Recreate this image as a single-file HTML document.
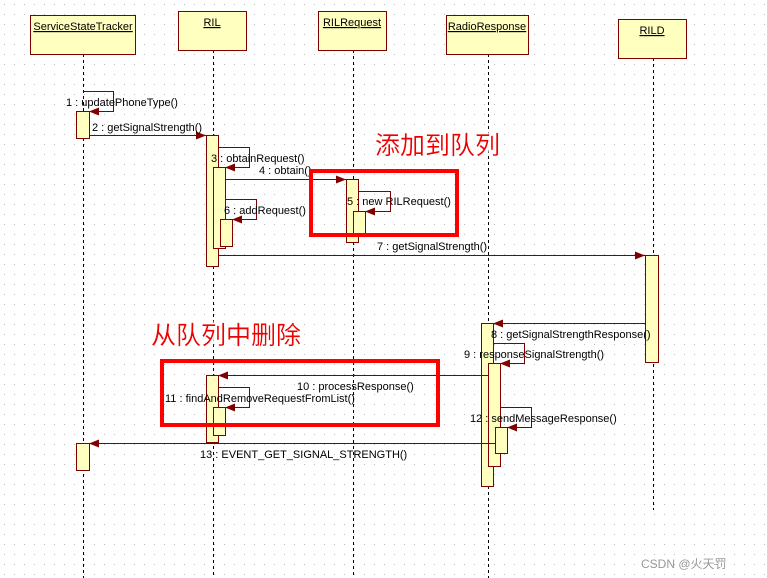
<!DOCTYPE html>
<html><head><meta charset="utf-8"><style>
html,body{margin:0;padding:0;background:#fff;}
svg{display:block;}
text{font-family:"Liberation Sans","Noto Sans CJK SC",sans-serif;font-size:11px;fill:#000;}
.cn{font-family:"Noto Sans CJK SC","WenQuanYi Zen Hei",sans-serif;font-size:25px;fill:#e00;stroke:#fff;stroke-width:0;}
</style></head><body>
<svg width="767" height="578" viewBox="0 0 767 578" xmlns="http://www.w3.org/2000/svg">
<defs>
<pattern id="dots" width="10" height="10" patternUnits="userSpaceOnUse"><rect x="4" y="4" width="1" height="1" fill="#bbb"/></pattern>
<marker id="ah" markerWidth="10" markerHeight="8" refX="10" refY="4" orient="auto" markerUnits="userSpaceOnUse"><path d="M0,0 L10,4 L0,8 z" fill="#800000"/></marker>
<filter id="glow"><feMorphology operator="dilate" radius="2" in="SourceAlpha" result="d"/><feGaussianBlur in="d" stdDeviation="1.5" result="b"/><feFlood flood-color="#fff"/><feComposite in2="b" operator="in"/><feMerge><feMergeNode/><feMergeNode in="SourceGraphic"/></feMerge></filter>
</defs>
<rect width="767" height="578" fill="url(#dots)"/>
<g stroke="#000" stroke-dasharray="3,3" stroke-width="1">
<line x1="83.5" y1="54" x2="83.5" y2="578"/>
<line x1="213.5" y1="50" x2="213.5" y2="578"/>
<line x1="353.5" y1="50" x2="353.5" y2="578"/>
<line x1="488.5" y1="54" x2="488.5" y2="578"/>
<line x1="653.5" y1="58" x2="653.5" y2="510"/>
</g>
<g fill="#ffffc0" stroke="#800000" stroke-width="1">
<rect x="30.5" y="15.5" width="105" height="39"/>
<rect x="178.5" y="11.5" width="68" height="39"/>
<rect x="318.5" y="11.5" width="68" height="39"/>
<rect x="446.5" y="15.5" width="82" height="39"/>
<rect x="618.5" y="19.5" width="68" height="39"/>
</g>
<g style="text-decoration:underline">
<text x="83" y="30" text-anchor="middle" text-decoration="underline">ServiceStateTracker</text>
<text x="212" y="26" text-anchor="middle" text-decoration="underline">RIL</text>
<text x="352" y="26" text-anchor="middle" text-decoration="underline">RILRequest</text>
<text x="487" y="30" text-anchor="middle" text-decoration="underline">RadioResponse</text>
<text x="652" y="34" text-anchor="middle" text-decoration="underline">RILD</text>
</g>
<g fill="#ffffc0" stroke="#800000" stroke-width="1">
<rect x="76.5" y="111.5" width="13" height="27"/>
<rect x="206.5" y="135.5" width="12" height="131"/>
<rect x="213.5" y="167.5" width="12" height="81"/>
<rect x="220.5" y="219.5" width="12" height="27"/>
<rect x="346.5" y="179.5" width="12" height="63"/>
<rect x="353.5" y="211.5" width="12" height="25"/>
<rect x="645.5" y="255.5" width="13" height="107"/>
<rect x="481.5" y="323.5" width="12" height="163"/>
<rect x="488.5" y="363.5" width="12" height="103"/>
<rect x="495.5" y="427.5" width="12" height="26"/>
<rect x="206.5" y="375.5" width="12" height="67"/>
<rect x="213.5" y="407.5" width="12" height="28"/>
<rect x="76.5" y="443.5" width="13" height="27"/>
</g>
<g fill="none" stroke="#800000" stroke-width="1" marker-end="url(#ah)">
<path d="M83.5,91.5 H113.5 V111.5 H89"/>
<path d="M89.5,135.5 H206"/>
<path d="M218.5,147.5 H249.5 V167.5 H225"/>
<path d="M225.5,179.5 H346"/>
<path d="M358.5,191.5 H390.5 V211.5 H365"/>
<path d="M225.5,199.5 H256.5 V219.5 H232"/>
<path d="M218.5,255.5 H645"/>
<path d="M645.5,323.5 H493"/>
<path d="M493.5,343.5 H524.5 V363.5 H500"/>
<path d="M488.5,375.5 H218"/>
<path d="M218.5,387.5 H249.5 V407.5 H225"/>
<path d="M500.5,407.5 H531.5 V427.5 H507"/>
<path d="M495.5,443.5 H89"/>
</g>
<text x="66" y="106">1 : updatePhoneType()</text>
<text x="92" y="131">2 : getSignalStrength()</text>
<text x="211" y="162">3 : obtainRequest()</text>
<text x="259" y="174">4 : obtain()</text>
<text x="347" y="205">5 : new RILRequest()</text>
<text x="224" y="214">6 : addRequest()</text>
<text x="377" y="250">7 : getSignalStrength()</text>
<text x="491" y="338">8 : getSignalStrengthResponse()</text>
<text x="464" y="358">9 : responseSignalStrength()</text>
<text x="297" y="390">10 : processResponse()</text>
<text x="165" y="402">11 : findAndRemoveRequestFromList()</text>
<text x="470" y="422">12 : sendMessageResponse()</text>
<text x="200" y="458">13 : EVENT_GET_SIGNAL_STRENGTH()</text>
<g fill="none" stroke="#f00" stroke-width="4">
<rect x="311" y="171" width="146" height="64"/>
<rect x="162" y="361" width="276" height="64"/>
</g>
<text class="cn" x="375" y="154" filter="url(#glow)">添加到队列</text>
<text class="cn" x="151" y="344" filter="url(#glow)">从队列中删除</text>
<text x="641" y="568" style="font-size:12px;fill:#999">CSDN @火天罚</text>
</svg>
</body></html>
